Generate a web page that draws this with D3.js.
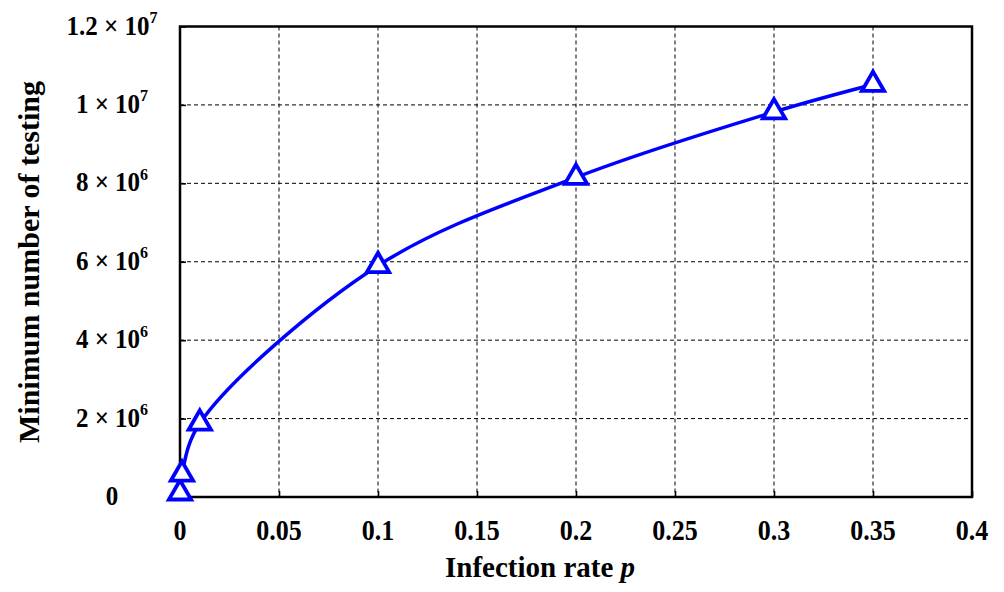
<!DOCTYPE html>
<html>
<head>
<meta charset="utf-8">
<script src="https://cdn.jsdelivr.net/npm/d3@7/dist/d3.min.js"></script>
<style>
  html, body { margin: 0; padding: 0; background: #fff; }
  svg text { font-family: "Liberation Serif", "Times New Roman", serif; font-weight: bold; fill: #000; }
</style>
</head>
<body>
<svg id="chart" width="1004" height="592"></svg>
<script>
// Infection rate p and the minimum number of tests required
const infectionRate = [0, 0.001, 0.01, 0.1, 0.2, 0.3, 0.35];
const minTests = [0.1e6, 0.58e6, 1.88e6, 5.9e6, 8.15e6, 9.82e6, 10.52e6];

const xTicks = [0, 0.05, 0.1, 0.15, 0.2, 0.25, 0.3, 0.35, 0.4];
const xTickLabels = ["0", "0.05", "0.1", "0.15", "0.2", "0.25", "0.3", "0.35", "0.4"];
const yTicks = [0, 2e6, 4e6, 6e6, 8e6, 1e7, 1.2e7];
const yMantissa = ["0", "2", "4", "6", "8", "1", "1.2"];
const yExponent = [null, "6", "6", "6", "6", "7", "7"];

const svg = d3.select("#chart");
const plot = { left: 180, right: 972, top: 26.5, bottom: 497 };

const x = d3.scaleLinear().domain([0, 0.4]).range([plot.left, plot.right]);
const y = d3.scaleLinear().domain([0, 1.2e7]).range([plot.bottom, plot.top]);

// dashed grid
const grid = svg.append("g");
grid.selectAll("line.gx").data(xTicks.slice(1, -1)).join("line")
  .attr("x1", d => x(d)).attr("x2", d => x(d))
  .attr("y1", plot.top).attr("y2", plot.bottom)
  .attr("stroke", "#000").attr("stroke-width", 1).attr("stroke-dasharray", "4,3");
grid.selectAll("line.gy").data(yTicks.slice(1, -1)).join("line")
  .attr("y1", d => y(d)).attr("y2", d => y(d))
  .attr("x1", plot.left).attr("x2", plot.right)
  .attr("stroke", "#000").attr("stroke-width", 1).attr("stroke-dasharray", "4,3");

// inward ticks
const xAxis = d3.axisBottom(x).tickValues(xTicks).tickSize(-6).tickFormat("");
const yAxis = d3.axisLeft(y).tickValues(yTicks).tickSize(-6).tickFormat("");
svg.append("g").attr("transform", `translate(0,${plot.bottom})`).call(xAxis)
  .call(g => g.select(".domain").remove())
  .call(g => g.selectAll(".tick line").attr("stroke", "#000").attr("stroke-width", 1.6));
svg.append("g").attr("transform", `translate(${plot.left},0)`).call(yAxis)
  .call(g => g.select(".domain").remove())
  .call(g => g.selectAll(".tick line").attr("stroke", "#000").attr("stroke-width", 1.6));

// frame
svg.append("rect")
  .attr("x", plot.left).attr("y", plot.top)
  .attr("width", plot.right - plot.left).attr("height", plot.bottom - plot.top)
  .attr("fill", "none").attr("stroke", "#000").attr("stroke-width", 2.5);

// x tick labels (slightly tall glyphs)
svg.append("g").selectAll("text").data(xTicks).join("text")
  .attr("transform", d => `translate(${x(d)},540) scale(1,1.15)`)
  .attr("text-anchor", "middle").attr("font-size", 26)
  .text((d, i) => xTickLabels[i]);

// y tick labels: mantissa × 10^exponent
const yl = svg.append("g").selectAll("text").data(yTicks).join("text")
  .attr("transform", d => `translate(112,${y(d) + 8}) scale(1,1.05)`)
  .attr("text-anchor", "middle").attr("font-size", 25);
yl.each(function(d, i) {
  const t = d3.select(this);
  if (yExponent[i] === null) { t.text(yMantissa[i]); return; }
  t.append("tspan").text(yMantissa[i] + " \u00d7 10");
  t.append("tspan").attr("dy", -11).attr("font-size", 16).text(yExponent[i]);
});

// axis titles
svg.append("text")
  .attr("transform", "translate(540,577)")
  .attr("text-anchor", "middle").attr("font-size", 29)
  .call(t => {
    t.append("tspan").text("Infection rate ");
    t.append("tspan").attr("font-style", "italic").text("p");
  });

svg.append("text")
  .attr("transform", "translate(39,262) rotate(-90)")
  .attr("text-anchor", "middle").attr("font-size", 30)
  .text("Minimum number of testing");

// curve and markers
const pts = infectionRate.map((p, i) => [p, minTests[i]]);
const line = d3.line().x(d => x(d[0])).y(d => y(d[1])).curve(d3.curveCatmullRom.alpha(0.5));
svg.append("path").datum(pts)
  .attr("d", line).attr("fill", "none")
  .attr("stroke", "#0000ff").attr("stroke-width", 3.5);

const tri = d3.symbol().type(d3.symbolTriangle).size(215);
svg.append("g").selectAll("path").data(pts).join("path")
  .attr("transform", d => `translate(${x(d[0])},${y(d[1])})`)
  .attr("d", tri)
  .attr("fill", "#fff").attr("stroke", "#0000ff").attr("stroke-width", 3.8);
</script>
</body>
</html>
